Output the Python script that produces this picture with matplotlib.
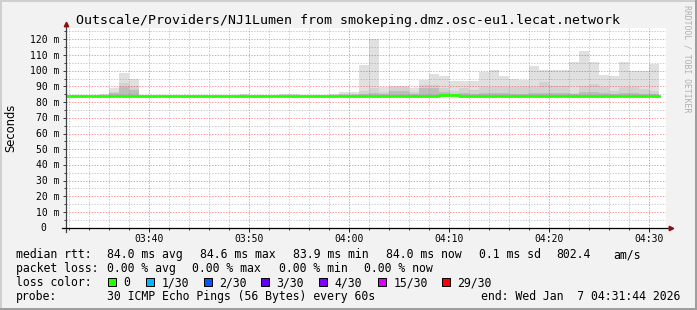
import matplotlib
matplotlib.use("Agg")
import matplotlib.pyplot as plt
import matplotlib.dates as mdates
from matplotlib.patches import Rectangle
from matplotlib.ticker import MultipleLocator
from matplotlib.transforms import ScaledTranslation
import pandas as pd

W, H, DPI = 697, 310, 100

# one smoke column per minute, 03:31 .. 04:30 (values in ms)
minutes = pd.date_range("2026-01-07 03:31", periods=60, freq="min")
t_start = pd.Timestamp("2026-01-07 03:31:44")
t_end = pd.Timestamp("2026-01-07 04:31:44")

smoke_max = [84.4, 84.4, 84.4, 84.4, 85.0, 89.2, 98.7, 94.9, 84.4, 84.4,
             84.4, 84.4, 84.4, 84.4, 84.4, 84.4, 84.4, 84.4, 85.0, 84.4,
             84.4, 84.4, 85.0, 85.0, 84.4, 84.4, 84.4, 85.3, 86.6, 86.6,
             103.8, 120.2, 89.4, 90.5, 90.5, 88.8, 94.3, 98.0, 96.8, 93.6,
             93.6, 93.6, 99.0, 100.6, 96.8, 95.0, 94.4, 102.7, 100.6, 100.6,
             100.6, 105.5, 112.5, 105.5, 97.4, 96.8, 105.8, 99.5, 99.5, 104.4]
smoke_mid = [84.2, 84.2, 84.2, 84.2, 84.5, 86.6, 92.4, 90.3, 84.2, 84.2,
             84.2, 84.2, 84.2, 84.2, 84.2, 84.2, 84.2, 84.2, 84.4, 84.2,
             84.2, 84.2, 84.4, 84.4, 84.2, 84.2, 84.2, 84.6, 85.0, 85.0,
             87.3, 88.8, 86.4, 89.5, 89.5, 86.3, 91.2, 90.8, 88.8, 87.3,
             88.8, 87.8, 89.8, 89.8, 89.8, 89.5, 89.5, 89.5, 93.0, 90.0,
             90.0, 86.0, 90.5, 91.8, 89.8, 87.3, 89.8, 89.8, 88.5, 87.3]
smoke_low = [84.1, 84.1, 84.1, 84.1, 84.1, 85.5, 89.5, 88.0, 84.1, 84.1,
             84.1, 84.1, 84.1, 84.1, 84.1, 84.1, 84.1, 84.1, 84.1, 84.1,
             84.1, 84.1, 84.1, 84.1, 84.1, 84.1, 84.1, 84.1, 84.3, 84.3,
             85.2, 85.5, 85.0, 87.3, 87.3, 85.0, 88.8, 88.8, 86.5, 85.2,
             85.5, 85.2, 86.0, 86.0, 85.5, 85.2, 85.2, 85.5, 86.0, 85.5,
             85.5, 85.0, 86.5, 86.5, 85.5, 85.2, 85.5, 85.5, 85.2, 85.0]
median = [84.0, 84.0, 84.0, 84.0, 84.0, 84.0, 84.0, 84.0, 84.0, 84.0,
          84.0, 84.0, 84.0, 84.0, 84.0, 84.0, 84.0, 84.0, 84.0, 84.0,
          84.0, 84.0, 84.0, 84.0, 84.0, 84.0, 84.0, 84.0, 84.0, 84.0,
          84.0, 84.0, 84.0, 84.0, 84.0, 84.0, 84.0, 84.0, 84.4, 84.6,
          84.0, 84.0, 84.0, 84.0, 84.0, 84.0, 84.0, 84.0, 84.0, 84.0,
          84.0, 84.0, 84.0, 84.0, 84.0, 84.0, 84.0, 84.0, 84.0, 84.0]
ping_min = 83.9

y_ticks = [0, 10, 20, 30, 40, 50, 60, 70, 80, 90, 100, 110, 120]
y_labels = ["0", "10 m", "20 m", "30 m", "40 m", "50 m", "60 m", "70 m",
            "80 m", "90 m", "100 m", "110 m", "120 m"]

title = "Outscale/Providers/NJ1Lumen from smokeping.dmz.osc-eu1.lecat.network"
rtt_row = [("median rtt:", 16), ("84.0 ms avg", 107), ("84.6 ms max", 200),
           ("83.9 ms min", 293), ("84.0 ms now", 386), ("0.1 ms sd", 479),
           ("802.4", 556), ("am/s", 613)]
loss_row = [("packet loss:", 16), ("0.00 % avg", 107), ("0.00 % max", 192),
            ("0.00 % min", 279), ("0.00 % now", 364)]
loss_labels = ["0", "1/30", "2/30", "3/30", "4/30", "15/30", "29/30"]
loss_colors = ["#26ff00", "#00b8ff", "#0059ff", "#5e00ff", "#7e00ff",
               "#dd00ff", "#ff0000"]
loss_box_x = [108, 146, 204, 261, 319, 378, 442]
probe_text = "30 ICMP Echo Pings (56 Bytes) every 60s"
end_text = "end: Wed Jan  7 04:31:44 2026"

plt.rcParams["font.family"] = ["DejaVu Sans Mono"]

fig = plt.figure(figsize=(W / DPI, H / DPI), dpi=DPI, facecolor="#f2f2f2")


def ftext(x, y, s, **kw):
    # x, y in pixels from top-left
    return fig.text(x / W, 1 - y / H, s, **kw)


# border shading
fig.add_artist(Rectangle((0, 1 - 2 / H), 1, 2 / H, transform=fig.transFigure, fc="#cfcfcf", lw=0))
fig.add_artist(Rectangle((0, 0), 2 / W, 1, transform=fig.transFigure, fc="#cfcfcf", lw=0))
fig.add_artist(Rectangle((0, 0), 1, 2 / H, transform=fig.transFigure, fc="#9e9e9e", lw=0))
fig.add_artist(Rectangle((1 - 2 / W, 0), 2 / W, 1, transform=fig.transFigure, fc="#9e9e9e", lw=0))

ax = fig.add_axes([66 / W, (H - 227.7) / H, 600 / W, 200 / H])
ax.set_facecolor("white")

# step fills for the smoke
edges = list(mdates.date2num(minutes)) + [mdates.date2num(minutes[-1] + pd.Timedelta(minutes=1))]
def steps(v):
    return list(v) + [v[-1]]

ax.fill_between(edges, ping_min, steps(smoke_max), step="post", color="#e0e0e0", lw=0, zorder=1)
ax.fill_between(edges, ping_min, steps(smoke_mid), step="post", color="#d2d2d2", lw=0, zorder=1.1)
ax.fill_between(edges, ping_min, steps(smoke_low), step="post", color="#bdbdbd", lw=0, zorder=1.2)
ax.step(edges, steps(median), where="post", color="#26ff00", lw=2.0, zorder=3)

ax.set_xlim(mdates.date2num(t_start), mdates.date2num(t_end))
ax.set_ylim(0, 127.4)

ax.xaxis.set_major_locator(mdates.MinuteLocator(byminute=[0, 10, 20, 30, 40, 50]))
ax.xaxis.set_minor_locator(mdates.MinuteLocator(byminute=[m for m in range(0, 60, 2) if m % 10]))
ax.xaxis.set_major_formatter(mdates.DateFormatter("%H:%M"))
ax.set_yticks(y_ticks)
ax.set_yticklabels([])
ax.yaxis.set_minor_locator(MultipleLocator(5))

# grid.alpha from rcParams would override an RGBA alpha, so pass alpha explicitly
ax.set_axisbelow(False)
ax.grid(which="major", color="#ff0000", alpha=0.4, lw=0.72, ls=(0, (1.4, 1.4)), zorder=2)
ax.grid(which="minor", color="#808080", alpha=0.4, lw=0.72, ls=(0, (1.4, 1.4)), zorder=2)

ax.tick_params(axis="x", which="major", length=2.9, width=0.72, color="#202020",
               pad=1.8, labelsize=7)
ax.tick_params(axis="x", which="minor", length=1.5, width=0.72, color="#404040")
ax.tick_params(axis="y", which="major", length=2.2, width=0.72, color="#404040")
ax.tick_params(axis="y", which="minor", length=1.2, width=0.72, color="#404040")

for v, lab in zip(y_ticks, y_labels):
    dx = -6.7 if lab != "0" else -19.3
    tr = ax.get_yaxis_transform() + ScaledTranslation(dx / DPI, -3.5 / DPI, fig.dpi_scale_trans)
    ax.text(0, v, lab, transform=tr, ha="right", va="baseline", fontsize=7, color="black")

for s in ax.spines.values():
    s.set_visible(False)

# axis lines and arrows
ax.plot([0, 0], [-4 / 200, 1 + 4 / 200], transform=ax.transAxes, color="#404040",
        lw=0.9, clip_on=False, zorder=4)
ax.plot([-4 / 600, 1 + 4 / 600], [0, 0], transform=ax.transAxes, color="black",
        lw=0.9, clip_on=False, zorder=4)
ax.plot([0], [1 + 4 / 200], transform=ax.transAxes, marker="^", ms=3.2, color="#8b1010",
        clip_on=False, zorder=5)
ax.plot([1 + 5 / 600], [0], transform=ax.transAxes, marker=">", ms=3.2, color="#8b1010",
        clip_on=False, zorder=5)

ftext(348, 24, title, ha="center", va="baseline", fontsize=9.5)
ftext(11, 127.5, "Seconds", rotation=90, ha="center", va="center", fontsize=8.3,
      family=["DejaVu Sans"])
ftext(687.5, 5, "RRDTOOL / TOBI OETIKER", rotation=270, ha="center", va="top",
      fontsize=5.9, color="#b0b0b0")

leg = dict(fontsize=8.3, va="baseline", ha="left")
for s, x in rtt_row:
    ftext(x, 258.3, s, **leg)
for s, x in loss_row:
    ftext(x, 272.3, s, **leg)
ftext(16, 286.3, "loss color:", **leg)
for lab, col, bx in zip(loss_labels, loss_colors, loss_box_x):
    fig.add_artist(Rectangle((bx / W, 1 - 286 / H), 8 / W, 8 / H, transform=fig.transFigure,
                             fc=col, ec="black", lw=0.72))
    ftext(bx + 15.5, 286.3, lab, **leg)
ftext(16, 300.3, "probe:", **leg)
ftext(107, 300.3, probe_text, **leg)
ftext(680, 300.3, end_text, fontsize=8.3, va="baseline", ha="right")

fig.savefig("out.png", dpi=DPI, facecolor=fig.get_facecolor())
